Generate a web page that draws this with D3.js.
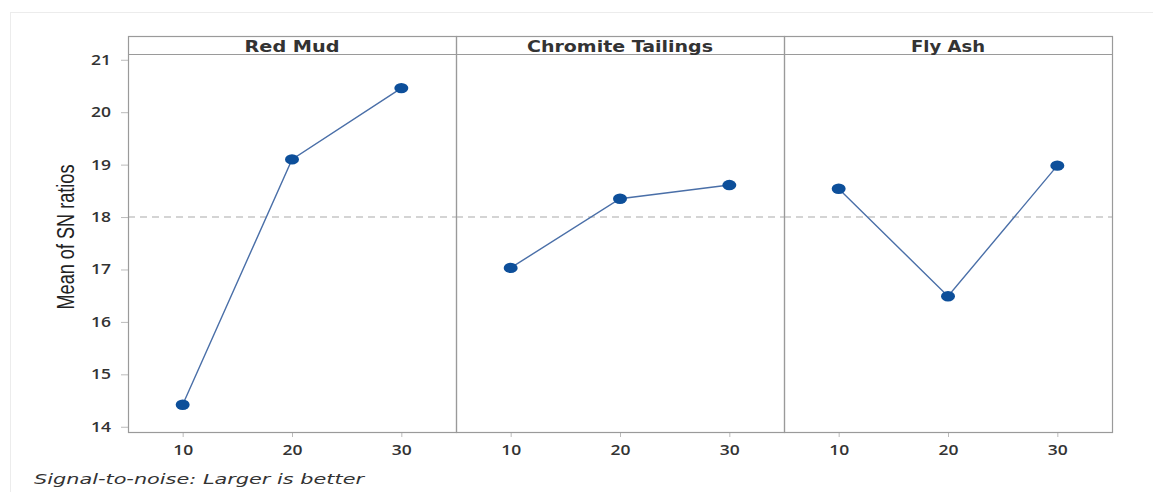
<!DOCTYPE html>
<html><head><meta charset="utf-8">
<script src="https://cdn.jsdelivr.net/npm/d3@7"></script>
<style>body{margin:0;background:#fff}svg{display:block}</style>
</head><body>
<svg id="c" width="1153" height="492"></svg>
<script>
const panels = ["Red Mud", "Chromite Tailings", "Fly Ash"];
const levels = [10, 20, 30];
const redMud = [14.42, 19.10, 20.46];
const chromite = [17.03, 18.35, 18.61];
const flyAsh = [18.54, 16.49, 18.98];
const yTicks = [14, 15, 16, 17, 18, 19, 20, 21];
const meanLine = 18.0;
const series = [redMud, chromite, flyAsh];
const titleWidths = [95, 186, 74];

const svg = d3.select("#c");
const pLeft = 128, pw = 328, pTop = 36, stripH = 18, pBottom = 432;

svg.append("line").attr("x1",10).attr("x2",1153).attr("y1",12.5).attr("y2",12.5).attr("stroke","#ececec");
svg.append("line").attr("x1",10.5).attr("x2",10.5).attr("y1",12).attr("y2",492).attr("stroke","#ececec");

const y = d3.scaleLinear().domain([13.9, 21.11]).range([pBottom, pTop+stripH]);

const tickFont = "'Open Sans',sans-serif";
const ya = svg.append("g").attr("transform",`translate(${pLeft},0)`)
  .call(d3.axisLeft(y).tickValues(yTicks).tickSize(7).tickPadding(10));
ya.select(".domain").remove();
ya.selectAll(".tick line").attr("stroke","#bbb");
ya.selectAll(".tick text").attr("fill","#333").attr("font-family",tickFont)
  .attr("font-size",14).attr("font-weight",600)
  .attr("textLength",20).attr("lengthAdjust","spacingAndGlyphs");

svg.append("text").attr("transform",`translate(74,237) rotate(-90)`)
  .attr("text-anchor","middle").attr("font-family","'Liberation Sans Narrow','Liberation Sans',sans-serif")
  .attr("font-size",23).attr("fill","#222")
  .attr("textLength",145).attr("lengthAdjust","spacingAndGlyphs").text("Mean of SN ratios");

panels.forEach((name,i)=>{
  const x0 = pLeft + i*pw;
  const x = d3.scaleLinear().domain([5,35]).range([x0, x0+pw]);
  const g = svg.append("g");
  g.append("line").attr("x1",x0).attr("x2",x0+pw).attr("y1",y(meanLine)).attr("y2",y(meanLine))
    .attr("stroke","#c6c6c6").attr("stroke-width",1.5).attr("stroke-dasharray","7,5");
  const xa = g.append("g").attr("transform",`translate(0,${pBottom})`)
    .call(d3.axisBottom(x).tickValues(levels).tickSize(5).tickPadding(8));
  xa.select(".domain").remove();
  xa.selectAll(".tick line").attr("stroke","#bbb");
  xa.selectAll(".tick text").attr("fill","#333").attr("font-family",tickFont)
    .attr("font-size",14).attr("font-weight",600)
    .attr("textLength",20).attr("lengthAdjust","spacingAndGlyphs");
  g.append("rect").attr("x",x0+0.5).attr("y",pTop+0.5).attr("width",pw).attr("height",pBottom-pTop)
    .attr("fill","none").attr("stroke","#9a9a9a").attr("stroke-width",1.2);
  g.append("line").attr("x1",x0).attr("x2",x0+pw).attr("y1",pTop+stripH+0.5).attr("y2",pTop+stripH+0.5)
    .attr("stroke","#9a9a9a").attr("stroke-width",1.2);
  g.append("text").attr("x",x0+pw/2).attr("y",pTop+16).attr("text-anchor","middle")
    .attr("font-family","'DejaVu Sans',sans-serif").attr("font-weight",700).attr("font-size",15.5)
    .attr("fill","#333").attr("textLength",titleWidths[i]).attr("lengthAdjust","spacingAndGlyphs").text(name);
  const data = levels.map((l,k)=>({l, v:series[i][k]}));
  g.append("path").datum(data).attr("fill","none").attr("stroke","#4a6fa8").attr("stroke-width",1.4)
    .attr("d", d3.line().x(d=>x(d.l)).y(d=>y(d.v)));
  g.selectAll("ellipse").data(data).join("ellipse")
    .attr("cx",d=>x(d.l)).attr("cy",d=>y(d.v)).attr("rx",7).attr("ry",5.2)
    .attr("fill","#0d4f9a");
});

svg.append("text").attr("x",34).attr("y",484).attr("font-family","'DejaVu Sans',sans-serif")
  .attr("font-style","italic").attr("font-size",14).attr("fill","#333")
  .attr("textLength",330).attr("lengthAdjust","spacingAndGlyphs")
  .text("Signal-to-noise: Larger is better");
</script>
</body></html>
